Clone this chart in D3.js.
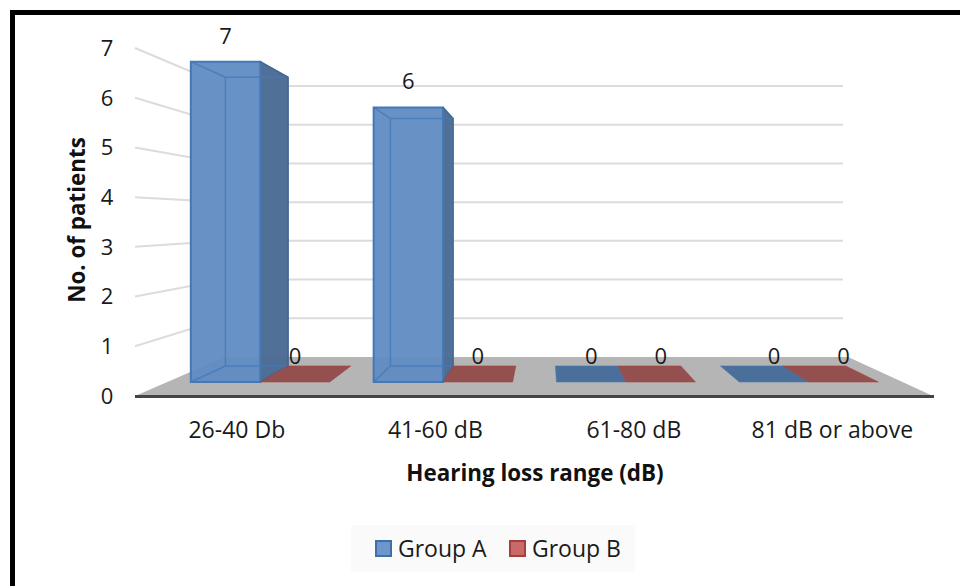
<!DOCTYPE html>
<html lang="en">
<head>
<meta charset="UTF-8">
<title>Hearing loss range</title>
<style>
	html,body{margin:0;padding:0;background:#fff;}
	svg{display:block;}
	text{font-family:"Open Sans",sans-serif;fill:#1a1a1a;}
	.bold{font-weight:700;fill:#111;}
</style>
</head>
<body>
<svg id="chart" width="960" height="586"></svg>
<script src="https://d3js.org/d3.v7.min.js"></script>
<script>
var categories = ['26-40 Db', '41-60 dB', '61-80 dB', '81 dB or above'];
var groupNames = ['Group A', 'Group B'];
var groupA = [7, 6, 0, 0];
var groupB = [0, 0, 0, 0];
var yTicks = [0, 1, 2, 3, 4, 5, 6, 7];

var colors = {
	'Group A': {face: '#608bc3', edge: '#4479b6', side: '#4a6b94', flat: '#4b6f9b', swatch: '#6d97cc', line: '#3d6fa8'},
	'Group B': {face: '#c96a68', edge: '#a5423f', side: '#8f4a49', flat: '#94504f', swatch: '#c96a68', line: '#a33f3c'}
};

var svg = d3.select('#chart');

// outer frame, only top and left are in the picture
svg.append('path')
	.attr('d', 'M12.5,586V12.5H960')
	.attr('fill', 'none')
	.attr('stroke', '#000')
	.attr('stroke-width', 5);

// fake 3d: z=0 is the front of the floor, z=1 the back wall
var zPos = {frontBar: 0.36, backBar: 0.77};
var leftX = d3.scaleLinear().domain([0, 1]).range([135, 225]);
var rightX = d3.scaleLinear().domain([0, 1]).range([933, 848]);
var floorY = d3.scaleLinear().domain([0, 1]).range([396, 357]);
var topY = d3.scaleLinear().domain([0, 1]).range([48, 86]);
var yDomain = [0, 7];

function project(u, z, v) {
	var x = d3.scaleLinear().domain([0, 1]).range([leftX(z), rightX(z)]);
	var y = d3.scaleLinear().domain(yDomain).range([floorY(z), topY(z)]);
	return [x(u), y(v)];
}

var uScale = d3.scaleBand().domain(categories).range([0.002, 0.997]).paddingInner(0.24).paddingOuter(0.12);
var groupScale = d3.scaleBand().domain(groupNames).range([0, uScale.bandwidth()]);
var line = d3.line();

// grid lines, side wall then back wall
var gridTicks = yTicks.filter(function(d){ return d > 0; });
svg.append('g').selectAll('path')
	.data(gridTicks)
	.enter()
	.append('path')
	.attr('d', function(d){
		return line([project(0, 0, d), project(0, 1, d), [843, project(1, 1, d)[1]]]);
	})
	.attr('fill', 'none')
	.attr('stroke', '#dcdcdc')
	.attr('stroke-width', 2);

// floor
svg.append('path')
	.attr('d', line([project(0, 0, 0), project(0, 1, 0), project(1, 1, 0), project(1, 0, 0)]) + 'Z')
	.attr('fill', '#b5b5b5');

svg.append('line')
	.attr('x1', project(0, 0, 0)[0])
	.attr('x2', project(1, 0, 0)[0] + 1)
	.attr('y1', 396.5)
	.attr('y2', 396.5)
	.attr('stroke', '#444')
	.attr('stroke-width', 3);

// bars
var bars = [];
categories.forEach(function(c, i){
	bars.push({cat: c, group: 'Group A', value: groupA[i]});
	bars.push({cat: c, group: 'Group B', value: groupB[i]});
});

function corners(d) {
	var u0 = uScale(d.cat) + groupScale(d.group);
	var u1 = u0 + groupScale.bandwidth();
	return {
		fb0: project(u0, zPos.frontBar, 0), fb1: project(u1, zPos.frontBar, 0),
		bb0: project(u0, zPos.backBar, 0), bb1: project(u1, zPos.backBar, 0),
		ft0: project(u0, zPos.frontBar, d.value), ft1: project(u1, zPos.frontBar, d.value),
		bt0: project(u0, zPos.backBar, d.value), bt1: project(u1, zPos.backBar, d.value)
	};
}

var bar = svg.append('g').selectAll('g')
	.data(bars)
	.enter()
	.append('g');

bar.each(function(d){
	var g = d3.select(this), k = corners(d), col = colors[d.group];
	if (d.value === 0) {
		g.append('path')
			.attr('d', line([k.fb0, k.fb1, k.bb1, k.bb0]) + 'Z')
			.attr('fill', col.flat)
			.attr('stroke', col.edge)
			.attr('stroke-opacity', 0.6)
			.attr('stroke-width', 1);
		return;
	}
	g.append('path')
		.attr('d', line([k.ft0, k.ft1, k.fb1, k.fb0]) + 'Z')
		.attr('fill', col.face)
		.attr('fill-opacity', 0.95);
	g.append('path')
		.attr('d', line([k.ft1, k.bt1, k.bb1, k.fb1]) + 'Z')
		.attr('fill', col.side)
		.attr('fill-opacity', 0.97);
	// hidden edges show through
	g.append('path')
		.attr('d', line([k.ft0, k.bt0, k.bt1]) + 'M' + k.bt0 + 'L' + k.bb0 + 'L' + k.fb0 + 'M' + k.bb0 + 'L' + k.bb1)
		.attr('fill', 'none')
		.attr('stroke', col.edge)
		.attr('stroke-opacity', 0.8)
		.attr('stroke-width', 1.5);
	g.append('path')
		.attr('d', line([k.ft0, k.ft1, k.fb1, k.fb0]) + 'Z')
		.attr('fill', 'none')
		.attr('stroke', col.edge)
		.attr('stroke-width', 2);
	g.append('path')
		.attr('d', line([k.ft1, k.bt1, k.bb1, k.fb1]))
		.attr('fill', 'none')
		.attr('stroke', '#3f6793')
		.attr('stroke-width', 1.5);
});

// value labels
bar.append('text')
	.attr('x', function(d){ var k = corners(d); return (k.ft0[0] + k.ft1[0]) / 2; })
	.attr('y', function(d){ return corners(d).ft0[1] - 26; })
	.attr('dy', '0.36em')
	.attr('text-anchor', 'middle')
	.style('font-size', '22px')
	.text(function(d){ return d.value; });

// y tick labels on the front edge
svg.append('g').selectAll('text')
	.data(yTicks)
	.enter()
	.append('text')
	.attr('x', 107)
	.attr('y', function(d){ return project(0, 0, d)[1]; })
	.attr('dy', '0.36em')
	.attr('text-anchor', 'middle')
	.style('font-size', '22px')
	.text(function(d){ return d; });

// category labels
svg.append('g').selectAll('text')
	.data(categories)
	.enter()
	.append('text')
	.attr('x', function(d){ return project(uScale(d) + uScale.bandwidth() / 2, 0, 0)[0] + 1; })
	.attr('y', 430)
	.attr('dy', '0.36em')
	.attr('text-anchor', 'middle')
	.style('font-size', '23px')
	.text(function(d){ return d; });

// axis titles
svg.append('text')
	.attr('class', 'bold')
	.attr('x', 535)
	.attr('y', 473)
	.attr('dy', '0.36em')
	.attr('text-anchor', 'middle')
	.style('font-size', '22.4px')
	.text('Hearing loss range (dB)');

svg.append('text')
	.attr('class', 'bold')
	.attr('transform', 'translate(77,220) rotate(-90)')
	.attr('dy', '0.36em')
	.attr('text-anchor', 'middle')
	.style('font-size', '22.4px')
	.text('No. of patients');

// legend
svg.append('rect')
	.attr('x', 351)
	.attr('y', 525)
	.attr('width', 284)
	.attr('height', 47)
	.attr('fill', '#fafafa');

var legendX = d3.scaleOrdinal().domain(groupNames).range([376, 510]);
var legend = svg.append('g').selectAll('g')
	.data(groupNames)
	.enter()
	.append('g')
	.attr('transform', function(d){ return 'translate(' + legendX(d) + ',549)'; });

legend.append('rect')
	.attr('y', -8)
	.attr('width', 15)
	.attr('height', 15)
	.attr('fill', function(d){ return colors[d].swatch; })
	.attr('stroke', function(d){ return colors[d].line; })
	.attr('stroke-width', 2);

legend.append('text')
	.attr('x', 22)
	.attr('dy', '0.36em')
	.style('font-size', '23px')
	.text(function(d){ return d; });
</script>
</body>
</html>
